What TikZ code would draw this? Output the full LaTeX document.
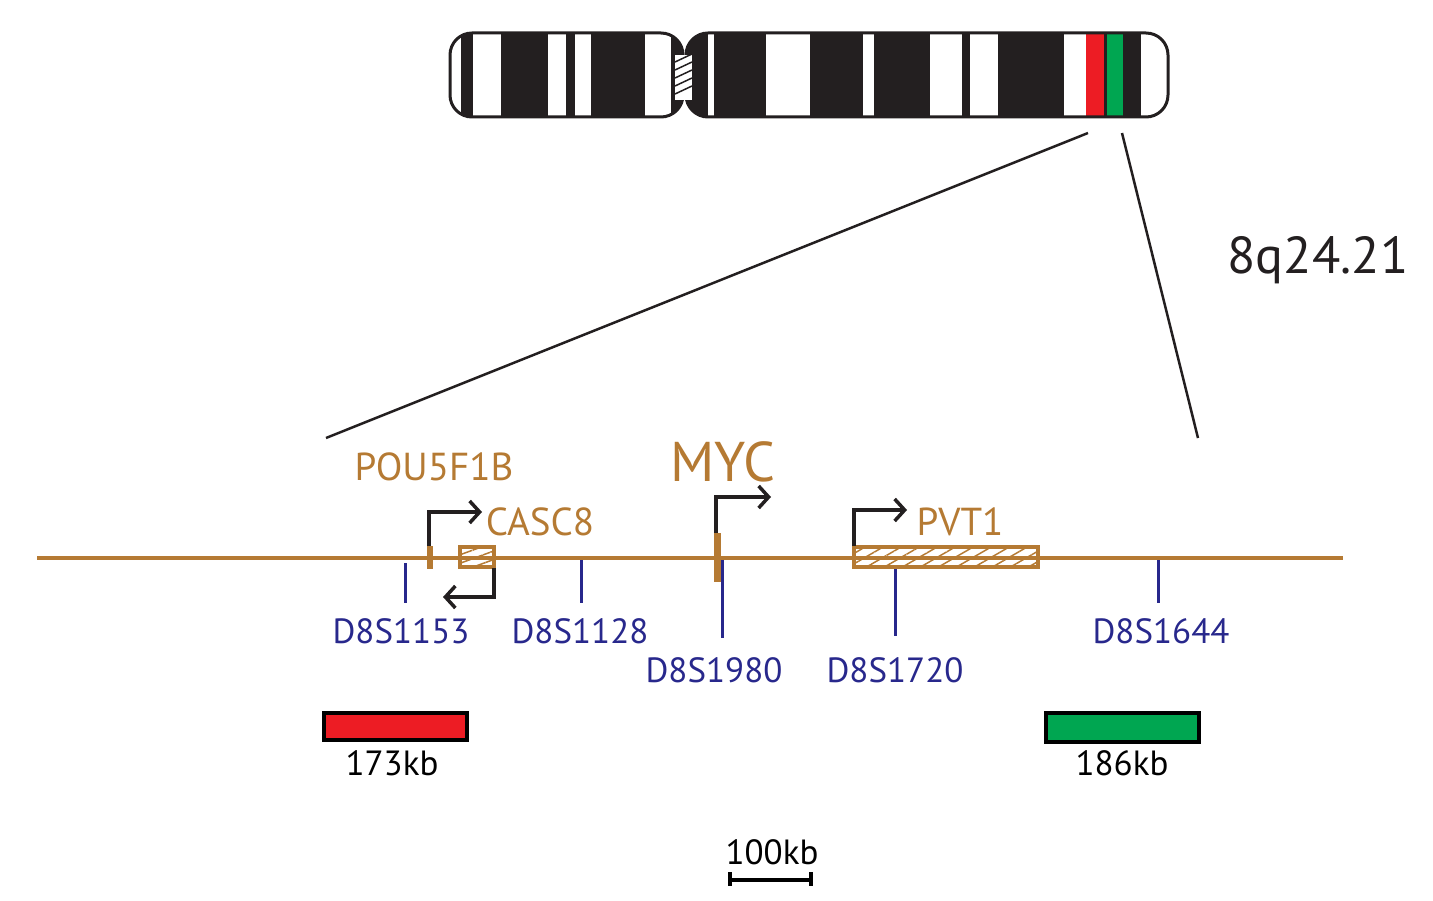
\documentclass[tikz,border=0pt]{standalone}
\usepackage{fontspec}
\setmainfont{PT Sans}
\usetikzlibrary{arrows.meta,patterns.meta}
\definecolor{gene}{RGB}{181,122,51}
\definecolor{mk}{RGB}{40,40,140}
\definecolor{rd}{RGB}{237,28,36}
\definecolor{gr}{RGB}{0,166,81}
\definecolor{chr}{RGB}{35,31,32}
\begin{document}
\begin{tikzpicture}[x=1pt,y=-1pt,
 mkline/.style={draw=mk,line width=3pt},
 mlab/.style={text=mk,font=\fontsize{35}{35}\selectfont},
 blab/.style={font=\fontsize{35}{35}\selectfont},
 glab/.style={text=gene,font=\fontsize{39}{39}\selectfont},
 prom/.style={draw=chr,line width=3.5pt,-{Straight Barb[length=10pt,width=22pt]}},
 hatch/.style={draw=gene,line width=3.5pt,pattern={Lines[angle=30,distance=9pt,line width=1.5pt]},pattern color=gene}]
\useasboundingbox (0,0) rectangle (1433,901);
% chromosome
\begin{scope}
\clip[rounded corners=22pt] (450,33) rectangle (683,117);
\fill[chr] (450,33) rectangle (683,117);
\foreach \a/\b in {449/461,473/501,548/566,575/591,645/671}{\fill[white] (\a,33) rectangle (\b,117);}
\end{scope}
\draw[chr,line width=3pt,rounded corners=22pt] (450,33) rectangle (683,117);
\begin{scope}
\clip[rounded corners=22pt] (686,33) rectangle (1168,117);
\fill[chr] (686,33) rectangle (1168,117);
\foreach \a/\b in {708/714,766/810,863/874,930/962,970/998,1064/1086,1141/1170}{\fill[white] (\a,33) rectangle (\b,117);}
\fill[rd] (1086,33) rectangle (1104,117);
\fill[gr] (1107,33) rectangle (1123,117);
\end{scope}
\draw[chr,line width=3pt,rounded corners=22pt] (686,33) rectangle (1168,117);
\fill[white] (675,55) rectangle (692,100);
\foreach \y in {58,66,74,82,90}{\draw[chr,line width=1.5pt] (675,\y+4) -- (692,\y-4);}
% zoom lines
\coordinate (z1) at (1088,133); \coordinate (z2) at (326,438);
\coordinate (z3) at (1122,133); \coordinate (z4) at (1198,438);
\draw[chr,line width=2.5pt] (z1) -- (z2);
\draw[chr,line width=2.5pt] (z3) -- (z4);
\node[font=\fontsize{52}{52}\selectfont,text=chr] (band) at (1318,260) {8q24.21};
% main line
\coordinate (l0) at (37,558); \coordinate (l1) at (1343,558);
\draw[gene,line width=3.5pt] (l0) -- (l1);
% markers
\foreach \n/\x/\t/\b/\lx/\ly/\lab in {m1/405/563/603/401/631/D8S1153,m2/581/560/603/580/631/D8S1128,m3/722/560/638/714/670/D8S1980,m4/895/568/636/895/670/D8S1720,m5/1158/560/603/1161/631/D8S1644}{
 \draw[mkline] (\x,\t) -- (\x,\b);
 \node[mlab] (\n) at (\lx,\ly) {\lab};}
% POU5F1B
\fill[gene] (427,546) rectangle (433,569);
\node[glab] (pou) at (434,467) {POU5F1B};
\draw[prom] (429,546) -- (429,512) -- (482,512);
% CASC8
\draw[draw=gene,line width=3.5pt,pattern={Lines[angle=20,distance=8pt,line width=1.5pt]},pattern color=gene] (460,547) rectangle (494,567);
\draw[prom] (494,568) -- (494,597) -- (443,597);
\node[glab] (casc) at (540,522) {CASC8};
% MYC
\fill[gene] (714,533) rectangle (721,582);
\draw[prom] (716,533) -- (716,497) -- (771,497);
\node[glab,font=\fontsize{56}{56}\selectfont] (myc) at (723,462) {MYC};
% PVT1
\draw[hatch] (854,547) rectangle (1038,567);
\draw[prom] (854,546) -- (854,510) -- (907,510);
\node[glab] (pvt) at (960,522) {PVT1};
% regions
\draw[black,line width=3.5pt,fill=rd] (324,713) rectangle (467,740);
\node[blab] (r1) at (392,763) {173kb};
\draw[black,line width=3.5pt,fill=gr] (1046,713) rectangle (1199,742);
\node[blab] (r2) at (1122,763) {186kb};
% scale bar
\draw[black,line width=3.5pt] (730,872) -- (730,886) (730,880) -- (811,880) (811,872) -- (811,886);
\node[blab] (sb) at (772,852) {100kb};
\end{tikzpicture}
\end{document}
